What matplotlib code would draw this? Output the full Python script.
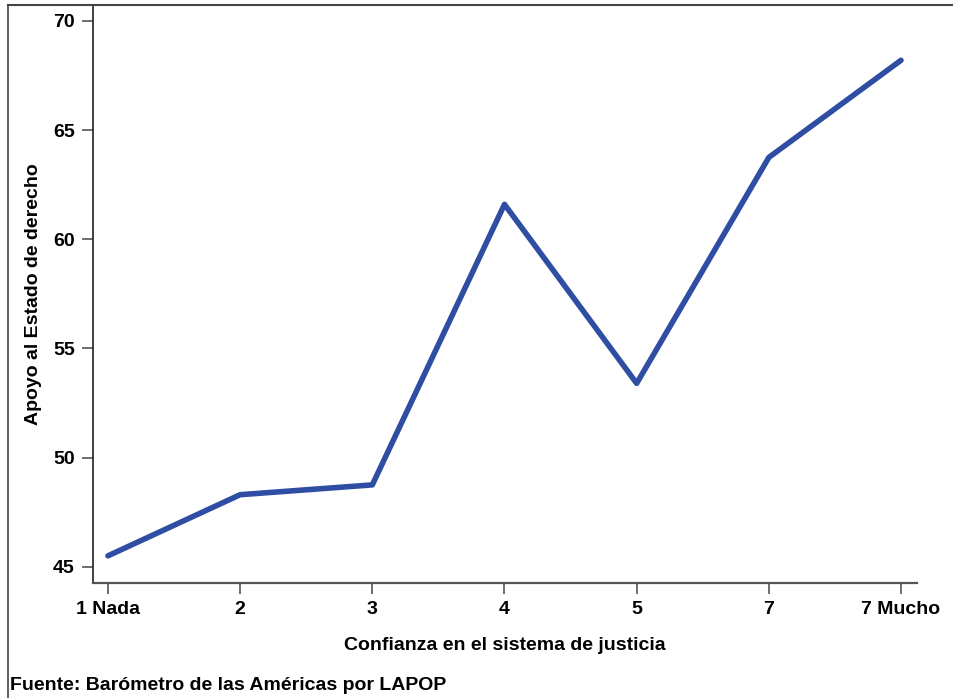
import matplotlib.pyplot as plt
from matplotlib.lines import Line2D

plt.rcParams['font.family'] = ['Liberation Sans', 'DejaVu Sans']
plt.rcParams['font.weight'] = 'bold'

categorias = ["1 Nada", "2", "3", "4", "5", "7", "7 Mucho"]
apoyo = [45.5, 48.3, 48.75, 61.6, 53.4, 63.75, 68.2]
yticks = [45, 50, 55, 60, 65, 70]

FS = 14

fig = plt.figure(figsize=(9.54, 6.98), dpi=100)
ax = fig.add_axes([0.0975, 0.1652, 0.8636, 0.8276])

x = list(range(len(categorias)))
ax.plot(x, apoyo, color='#2f4ea3', linewidth=4.0, solid_capstyle='round')

ax.set_xlim(-0.113, 6.12)
ax.set_ylim(44.27, 70.73)
ax.set_xticks(x)
ax.set_xticklabels(categorias, fontsize=FS, fontweight='bold')
ax.set_yticks(yticks)
ax.set_yticklabels([str(v) for v in yticks], fontsize=FS, fontweight='bold')
ax.tick_params(axis='both', length=8, width=1.2, color='#555555', pad=5)

ax.spines['top'].set_visible(False)
ax.spines['right'].set_visible(False)
ax.spines['left'].set_color('#222222')
ax.spines['left'].set_linewidth(1.2)
ax.spines['bottom'].set_color('#555555')
ax.spines['bottom'].set_linewidth(1.6)

ax.set_ylabel("Apoyo al Estado de derecho", fontsize=FS, fontweight='bold', labelpad=8)
ax.set_xlabel("Confianza en el sistema de justicia", fontsize=FS, fontweight='bold', labelpad=14)

# marco exterior
fig.add_artist(Line2D([8/954, 8/954], [0, 1 - 5/698], transform=fig.transFigure,
                      color='#444444', linewidth=1.2))
fig.add_artist(Line2D([8/954, 1], [1 - 5/698, 1 - 5/698], transform=fig.transFigure,
                      color='#444444', linewidth=1.5))

fig.text(10/954, 1 - 686/698, "Fuente: Barómetro de las Américas por LAPOP",
         fontsize=FS, fontweight='bold', va='center', ha='left')

fig.savefig('out.png', dpi=100)
